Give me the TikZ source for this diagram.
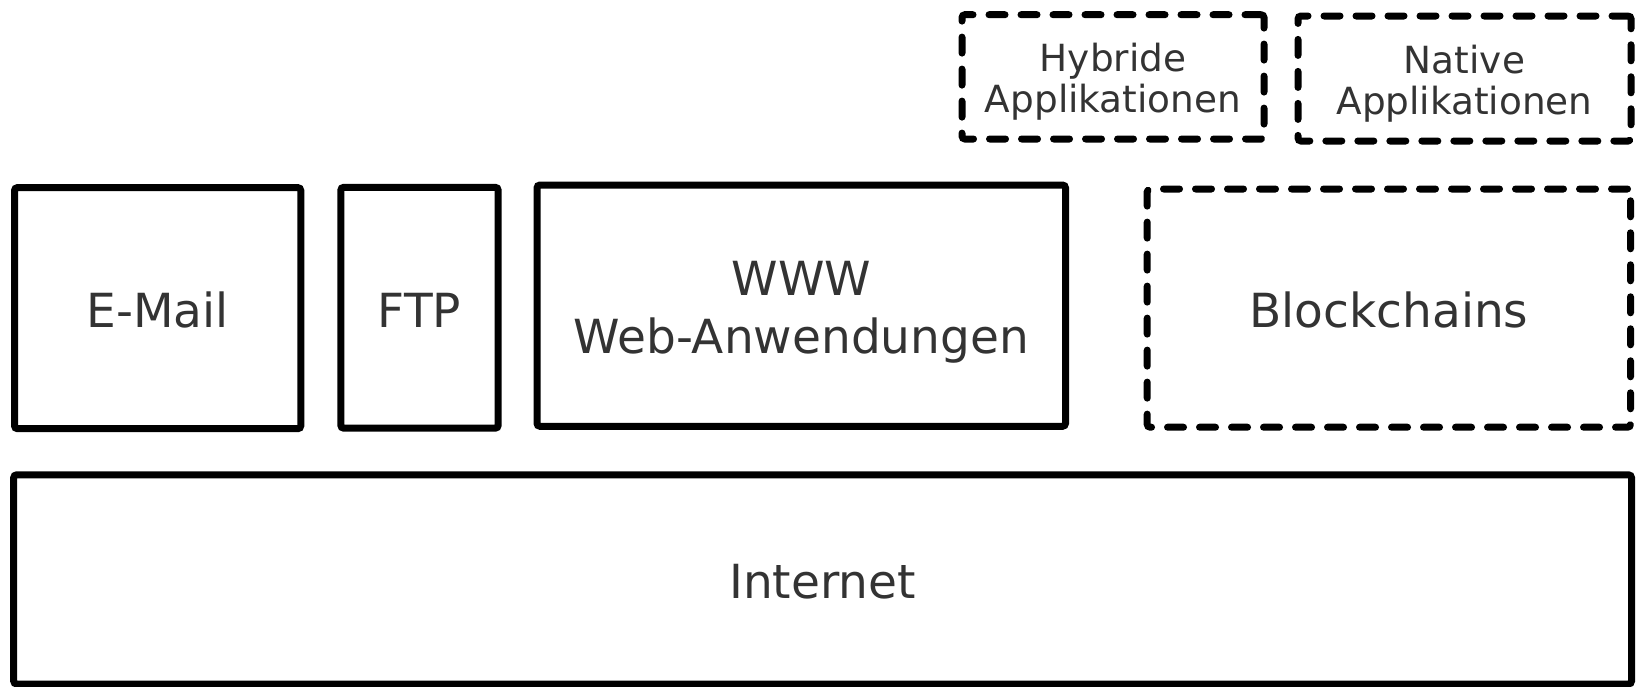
\documentclass[tikz,border=0pt]{standalone}
\usepackage{fontspec}
\setmainfont{DejaVu Sans}
\definecolor{txt}{HTML}{333333}
\begin{document}
\begin{tikzpicture}[x=0.5pt,y=-0.5pt,
  solidbox/.style={draw=black, line width=3.5pt, rounded corners=1.5pt, inner sep=0pt},
  dashbox/.style={solidbox, dash pattern=on 8pt off 8pt, line cap=round},
  bigtxt/.style={inner sep=0pt, align=center, text=txt, font=\fontsize{23.5}{29}\selectfont},
  smalltxt/.style={inner sep=0pt, align=center, text=txt, font=\fontsize{18.7}{20.6}\selectfont}]
\useasboundingbox (0,0) rectangle (1636,686);
% boxes
\node[solidbox, minimum width=143.15pt, minimum height=120.55pt] (email) at (157.65,308.15) {};
\node[solidbox, minimum width=78.7pt, minimum height=120.45pt] (ftp) at (419.5,307.75) {};
\node[solidbox, minimum width=264.25pt, minimum height=120.65pt] (www) at (801.25,305.65) {};
\node[dashbox, minimum width=241.65pt, minimum height=119.1pt] (bc) at (1388.85,308.1) {};
\node[solidbox, minimum width=808.9pt, minimum height=104.6pt] (inet) at (822.6,579.4) {};
\node[dashbox, minimum width=151pt, minimum height=62.15pt] (hyb) at (1113,76.85) {};
\node[dashbox, minimum width=166.5pt, minimum height=62.5pt] (nat) at (1464.5,78.5) {};
% labels
\node[bigtxt, yshift=-0.9pt] (emailt) at (email.center) {E-Mail};
\node[bigtxt, yshift=-1.1pt] (ftpt) at (ftp.center) {FTP};
\node[bigtxt, yshift=-3.2pt] (wwwt) at (www.center) {WWW\\Web-Anwendungen};
\node[bigtxt, yshift=-0.9pt] (bct) at (bc.center) {Blockchains};
\node[bigtxt, yshift=-0.9pt] (inett) at (inet.center) {Internet};
\node[smalltxt, yshift=-2.3pt] (hybt) at (hyb.center) {Hybride\\Applikationen};
\node[smalltxt, yshift=-2.6pt] (natt) at (nat.center) {Native\\Applikationen};
\end{tikzpicture}
\end{document}
